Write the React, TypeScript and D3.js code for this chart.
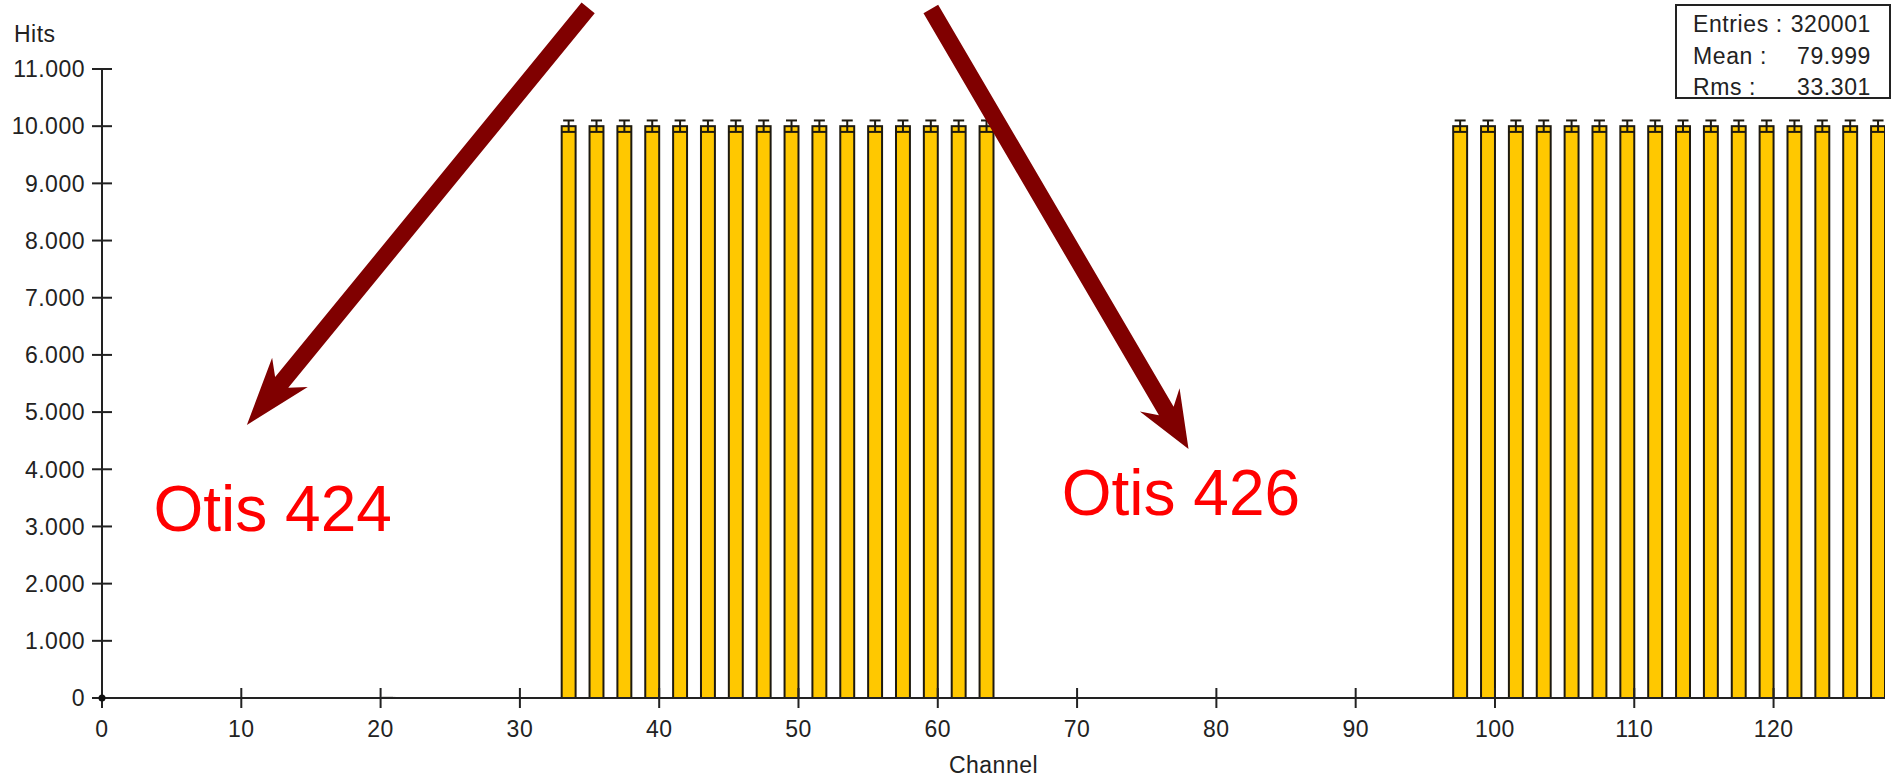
import React, { useEffect, useRef } from "react";
import * as d3 from "d3";

const WIDTH = 1901;
const HEIGHT = 779;

// filled channels (bin start) and their hit counts
const channels424 = [33, 35, 37, 39, 41, 43, 45, 47, 49, 51, 53, 55, 57, 59, 61, 63];
const hits424 = [10000, 10000, 10000, 10000, 10000, 10000, 10000, 10000, 10000, 10000, 10000, 10000, 10000, 10000, 10000, 10000];
const channels426 = [97, 99, 101, 103, 105, 107, 109, 111, 113, 115, 117, 119, 121, 123, 125, 127];
const hits426 = [10000, 10000, 10000, 10000, 10000, 10000, 10000, 10000, 10000, 10000, 10000, 10000, 10000, 10000, 10000, 10000];
// single stray hit
const strayChannels = [20];
const strayHits = [1];

const xTicks = [0, 10, 20, 30, 40, 50, 60, 70, 80, 90, 100, 110, 120];
const yTicks = [0, 1000, 2000, 3000, 4000, 5000, 6000, 7000, 8000, 9000, 10000, 11000];

const statLabels = ["Entries :", "Mean :", "Rms :"];
const statValues = ["320001", "79.999", "33.301"];

// annotations in data coordinates [channel, hits]
const otisLabels = ["Otis 424", "Otis 426"];
const otisLabelPos = [[3.7, 2921], [68.9, 3200]];
const arrowFrom = [[34.9, 12067], [59.5, 12050]];
const arrowTo = [[10.4, 4774], [78.0, 4355]];
const arrowHeadLen = [68, 57];

const FONT = "'Liberation Sans', Arial, sans-serif";

const App: React.FC = () => {
  const svgRef = useRef<SVGSVGElement | null>(null);

  useEffect(() => {
    if (!svgRef.current) return;
    const svg = d3.select(svgRef.current);
    svg.selectAll("*").remove();

    const x = d3.scaleLinear().domain([0, 128]).range([102, 1885]);
    const y = d3.scaleLinear().domain([0, 11000]).range([698, 69]);

    const fmt = d3.formatLocale({ decimal: ",", thousands: ".", grouping: [3], currency: ["", ""] }).format(",");

    const data = [
      ...channels424.map((c, i) => ({ c, h: hits424[i] })),
      ...channels426.map((c, i) => ({ c, h: hits426[i] })),
      ...strayChannels.map((c, i) => ({ c, h: strayHits[i] })),
    ];

    svg.append("defs").append("clipPath").attr("id", "plot")
      .append("rect").attr("x", x(0)).attr("y", 0).attr("width", x(128) - x(0)).attr("height", y(0) + 2);

    const bars = svg.append("g").attr("clip-path", "url(#plot)");

    // bars
    bars.selectAll("rect.bar")
      .data(data)
      .join("rect")
      .attr("class", "bar")
      .attr("x", (d) => x(d.c))
      .attr("width", (d) => x(d.c + 1) - x(d.c))
      .attr("y", (d) => y(d.h))
      .attr("height", (d) => y(0) - y(d.h))
      .attr("fill", "#ffc800")
      .attr("stroke", "#1e1a10")
      .attr("stroke-width", 2);

    // error bars
    const err = bars.append("g").attr("stroke", "#1e1a10").attr("stroke-width", 2);
    data.forEach((d) => {
      const cx = x(d.c + 0.5);
      const e = Math.sqrt(d.h);
      const half = 5.5;
      err.append("line").attr("x1", cx).attr("x2", cx).attr("y1", y(d.h + e)).attr("y2", y(d.h - e));
      err.append("line").attr("x1", cx - half).attr("x2", cx + half).attr("y1", y(d.h + e)).attr("y2", y(d.h + e));
      err.append("line").attr("x1", cx - half - 1.5).attr("x2", cx + half + 1.5).attr("y1", y(d.h - e)).attr("y2", y(d.h - e));
    });

    // axes
    const axis = svg.append("g").attr("stroke", "#222").attr("stroke-width", 2);
    axis.append("line").attr("x1", x(0)).attr("x2", x(128)).attr("y1", y(0)).attr("y2", y(0));
    axis.append("line").attr("x1", x(0)).attr("x2", x(0)).attr("y1", y(11000)).attr("y2", y(0));
    axis.selectAll("line.yt").data(yTicks).join("line").attr("class", "yt")
      .attr("x1", x(0) - 10).attr("x2", x(0) + 10).attr("y1", (d) => y(d)).attr("y2", (d) => y(d));
    axis.selectAll("line.xt").data(xTicks).join("line").attr("class", "xt")
      .attr("x1", (d) => x(d)).attr("x2", (d) => x(d)).attr("y1", y(0) - 10).attr("y2", y(0) + 10);

    svg.append("circle").attr("cx", x(0)).attr("cy", y(0)).attr("r", 3.5).attr("fill", "#111");

    const labels = svg.append("g").attr("font-family", FONT).attr("fill", "#222")
      .attr("font-size", 23).attr("letter-spacing", 0.5);
    labels.selectAll("text.yl").data(yTicks).join("text").attr("class", "yl")
      .attr("x", x(0) - 17).attr("y", (d) => y(d)).attr("dy", "0.36em")
      .attr("text-anchor", "end").text((d) => fmt(d));
    labels.selectAll("text.xl").data(xTicks).join("text").attr("class", "xl")
      .attr("x", (d) => x(d)).attr("y", 737)
      .attr("text-anchor", "middle").text((d) => String(d));
    labels.append("text").attr("x", (x(0) + x(128)) / 2).attr("y", 773)
      .attr("text-anchor", "middle").text("Channel");
    labels.append("text").attr("x", 14).attr("y", 42).text("Hits");

    // stats box
    const stats = svg.append("g").attr("font-family", FONT).attr("font-size", 23)
      .attr("letter-spacing", 0.6).attr("fill", "#222");
    stats.append("rect").attr("x", 1676).attr("y", 5).attr("width", 214).attr("height", 93)
      .attr("fill", "#fff").attr("stroke", "#222").attr("stroke-width", 2);
    statLabels.forEach((s, i) => {
      const by = 32 + i * 31.5;
      stats.append("text").attr("x", 1693).attr("y", by).text(s);
      stats.append("text").attr("x", 1871).attr("y", by).attr("text-anchor", "end").text(statValues[i]);
    });

    // arrows
    const arrows = svg.append("g").attr("fill", "#800000");
    arrowFrom.forEach((from, i) => {
      const sx = x(from[0]);
      const sy = y(from[1]);
      const tx = x(arrowTo[i][0]);
      const ty = y(arrowTo[i][1]);
      const len = Math.hypot(tx - sx, ty - sy);
      const ux = (tx - sx) / len;
      const uy = (ty - sy) / len;
      const nx = -uy;
      const ny = ux;
      const hl = arrowHeadLen[i];
      const sw = 8.5;
      const hw = 23;
      const pts: [number, number][] = [
        [sx + nx * sw, sy + ny * sw],
        [tx - ux * (hl - 13) + nx * sw, ty - uy * (hl - 13) + ny * sw],
        [tx - ux * hl + nx * hw, ty - uy * hl + ny * hw],
        [tx, ty],
        [tx - ux * hl - nx * hw, ty - uy * hl - ny * hw],
        [tx - ux * (hl - 13) - nx * sw, ty - uy * (hl - 13) - ny * sw],
        [sx - nx * sw, sy - ny * sw],
      ];
      arrows.append("path").attr("d", d3.line()(pts) + "Z");
    });

    // Otis labels
    svg.append("g").attr("font-family", FONT).attr("font-size", 64).attr("fill", "#ff0000")
      .selectAll("text").data(otisLabels).join("text")
      .attr("x", (d, i) => x(otisLabelPos[i][0]))
      .attr("y", (d, i) => y(otisLabelPos[i][1]))
      .text((d) => d);
  }, []);

  return (
    <svg
      ref={svgRef}
      width={WIDTH}
      height={HEIGHT}
      style={{ position: "absolute", left: 0, top: 0, background: "#fff" }}
    ></svg>
  );
};

export default App;
